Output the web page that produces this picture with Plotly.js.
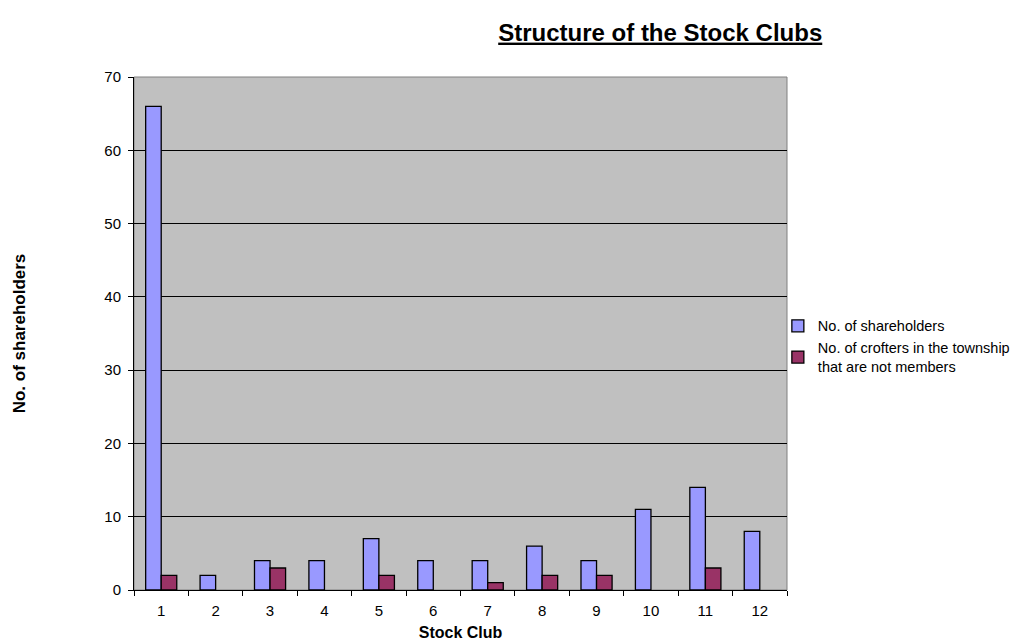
<!DOCTYPE html>
<html><head><meta charset="utf-8">
<script src="https://cdn.plot.ly/plotly-3.0.1.min.js"></script>
<style>body{margin:0;padding:0;background:#fff}#chart{width:1030px;height:644px}</style>
</head><body><div id="chart"></div>
<script>
const clubs = ["1","2","3","4","5","6","7","8","9","10","11","12"];
const shareholders = [66,2,4,4,7,4,4,6,4,11,14,8];
const crofters = [2,0,3,0,2,0,1,2,2,0,3,0];
const seriesNames = ["No. of shareholders","No. of crofters in the township<br>that are not members"];

const traces = [
  {type:'bar', x:clubs, y:shareholders, name:seriesNames[0],
   marker:{color:'#9999FF', line:{color:'#000', width:1.3}}},
  {type:'bar', x:clubs, y:crofters.map(v=>v===0?null:v), name:seriesNames[1],
   marker:{color:'#993366', line:{color:'#000', width:1.3}}}
];
const layout = {
  width:1030, height:644,
  margin:{l:134, r:243, t:77, b:54},
  paper_bgcolor:'#fff', plot_bgcolor:'#C0C0C0',
  font:{family:'Liberation Sans, Arial, sans-serif', size:15, color:'#000'},
  barmode:'group', bargap:0.4286, bargroupgap:0,
  title:{text:'<b><u>Structure of the Stock Clubs</u></b>', xref:'container', x:0.641, xanchor:'center', y:0.95, yanchor:'middle', font:{size:24}},
  xaxis:{type:'category', tickson:'boundaries', ticks:'outside', ticklen:5, tickcolor:'#000',
    showline:true, linecolor:'#000', linewidth:1, showgrid:false, zeroline:false,
    ticklabelstandoff:7,
    title:{text:'<b>Stock Club</b>', font:{size:16}, standoff:8}, tickfont:{size:15}},
  yaxis:{range:[0,70], dtick:10, ticks:'outside', ticklen:5, tickcolor:'#000',
    showline:true, linecolor:'#000', linewidth:1, showgrid:true, gridcolor:'#000', gridwidth:1,
    zeroline:false, tickfont:{size:15}, ticklabelstandoff:4,
    title:{text:'<b>No. of shareholders</b>', font:{size:17}, standoff:74}},
  legend:{x:0.986, xanchor:'left', y:0.546, yanchor:'top', font:{size:14.5}, tracegroupgap:0, itemwidth:30, bgcolor:'rgba(0,0,0,0)'},
  shapes:[{type:'rect', xref:'paper', yref:'paper', x0:0, x1:1, y0:0, y1:1, line:{color:'#808080', width:1}, layer:'below'}]
};
Plotly.newPlot('chart', traces, layout, {displayModeBar:false});
</script></body></html>
